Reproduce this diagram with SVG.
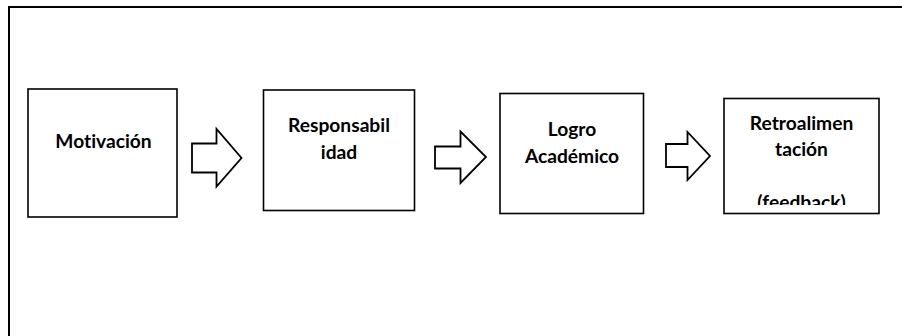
<svg xmlns="http://www.w3.org/2000/svg" width="902" height="336" viewBox="0 0 902 336">
<style>
.box{fill:#fff;stroke:#000;stroke-width:1.6}
.arr{fill:#fff;stroke:#000;stroke-width:1.8;stroke-linejoin:miter}
.t{font-family:Lato,"Liberation Sans",sans-serif;font-weight:bold;font-size:19.2px;fill:#000;text-anchor:middle;font-variant-ligatures:none;font-feature-settings:"liga" 0}
</style>
<defs>
<clipPath id="c4"><rect x="725" y="99" width="154" height="106"/></clipPath>
</defs>
<path d="M9,336 V7 H902" fill="none" stroke="#000" stroke-width="2"/>
<g id="n1">
<rect class="box" x="28" y="89" width="149" height="128"/>
<text class="t" x="103.5" y="147.5">Motivación</text>
</g>
<g id="n2">
<rect class="box" x="263.5" y="90" width="151" height="120.5"/>
<text class="t" x="339" y="131.5">Responsabil</text>
<text class="t" x="339" y="159">idad</text>
</g>
<g id="n3">
<rect class="box" x="500" y="93.5" width="143.5" height="120"/>
<text class="t" x="572" y="136">Logro</text>
<text class="t" x="572" y="162.5">Académico</text>
</g>
<g id="n4">
<rect class="box" x="724" y="98.5" width="155" height="115"/>
<g clip-path="url(#c4)">
<text class="t" x="801.5" y="129.5">Retroalimen</text>
<text class="t" x="801.5" y="156">tación</text>
<text class="t" x="801.5" y="209">(feedback)</text>
</g>
</g>
<g id="connectors">
<path class="arr" d="M192,143.5 H216.5 V129 L241.5,158 L216.5,186.5 V172.5 H192 Z"/>
<path class="arr" d="M435,146.5 H460.5 V131.5 L486,157 L460.5,183 V168.5 H435 Z"/>
<path class="arr" d="M666,144 H687.5 V132 L710,156 L687.5,180 V167 H666 Z"/>
</g>
</svg>
